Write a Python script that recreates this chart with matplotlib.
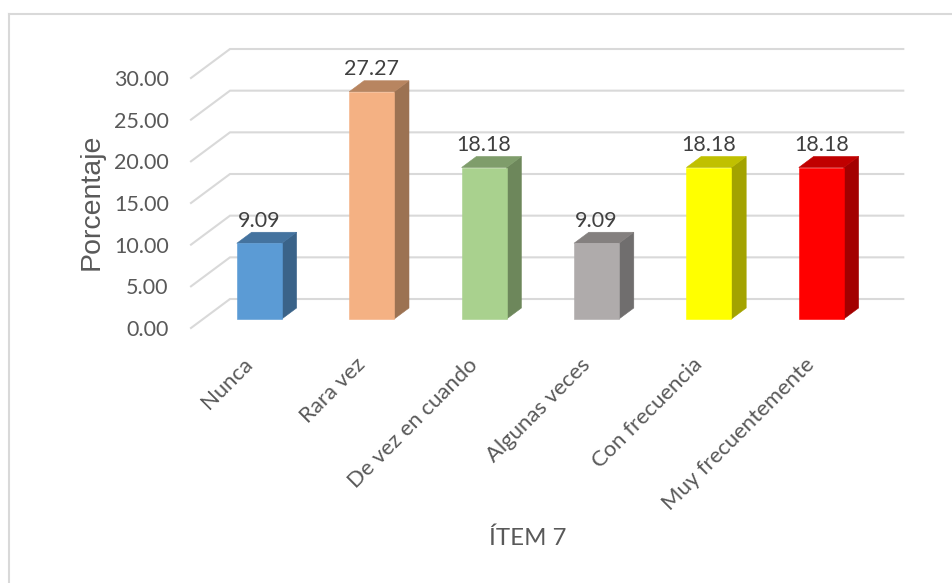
import matplotlib
matplotlib.use("Agg")
import matplotlib.pyplot as plt
from matplotlib.lines import Line2D
from matplotlib.patches import Polygon

categories = ["Nunca", "Rara vez", "De vez en cuando", "Algunas veces", "Con frecuencia", "Muy frecuentemente"]
values = [9.09, 27.27, 18.18, 9.09, 18.18, 18.18]
value_labels = ["9.09", "27.27", "18.18", "9.09", "18.18", "18.18"]
y_ticks = [0, 5, 10, 15, 20, 25, 30]
front_colors = ["#5B9BD5", "#F4B183", "#A9D18E", "#AFABAB", "#FFFF00", "#FF0000"]
top_colors = ["#44739F", "#B88560", "#7F9D6B", "#84807F", "#C0C000", "#C00000"]
side_colors = ["#3A6389", "#9C7252", "#6D875B", "#706E6E", "#A3A300", "#A30000"]

W, H = 953, 583
fig = plt.figure(figsize=(W / 100, H / 100), dpi=100)
plt.rcParams["font.family"] = "Lato"

# Front plane of the 3D box: x 191..865 px, y 78..328 px
ax = fig.add_axes([191 / W, 1 - 328 / H, 674.4 / W, 250 / H])
ax.set_xlim(-0.5, 5.5)
ax.set_ylim(0, 30)
for s in ax.spines.values():
    s.set_visible(False)
ax.patch.set_visible(False)

DX = 39 / (674.4 / 6)   # category units for full depth
DY = 29 / (250 / 30)    # value units for full depth


def proj(x, y, d):
    return x + d * DX, y + d * DY


grid_c = "#D9D9D9"
for v in y_ticks:
    pts = [proj(-0.5, v, 0), proj(-0.5, v, 1), proj(5.49, v, 1)]
    ax.plot(*zip(*pts), color=grid_c, lw=1.5, clip_on=False, zorder=1, solid_joinstyle="miter")

hw = 0.2
d0, d1 = 0.31, 0.69
for i, v in enumerate(values):
    xl, xr = i - hw, i + hw
    front = [proj(xl, 0, d0), proj(xr, 0, d0), proj(xr, v, d0), proj(xl, v, d0)]
    side = [proj(xr, 0, d0), proj(xr, 0, d1), proj(xr, v, d1), proj(xr, v, d0)]
    top = [proj(xl, v, d0), proj(xr, v, d0), proj(xr, v, d1), proj(xl, v, d1)]
    for poly, c in ((side, side_colors[i]), (top, top_colors[i]), (front, front_colors[i])):
        ax.add_patch(Polygon(poly, closed=True, fc=c, ec=c, lw=0.4, clip_on=False, zorder=3))
    lx, _ = proj(i, v, d0)
    _, ly = proj(i, v, d1)
    ax.text(lx, ly + 0.2, value_labels[i], ha="center", va="bottom",
            fontsize=15.5, color="#404040", zorder=5)

ax.set_yticks(y_ticks)
ax.set_yticklabels([f"{t:.2f}" for t in y_ticks], fontsize=15.5, color="#595959")
ax.tick_params(axis="y", length=0, pad=16)
ax.set_xticks([i - 0.04 for i in range(len(categories))])
ax.set_xticklabels(categories, rotation=45, ha="right", va="top", rotation_mode="anchor",
                   fontsize=15.9, color="#595959")
ax.tick_params(axis="x", length=0, pad=19)

fig.text(92 / W, 1 - 202 / H, "Porcentaje", rotation=90, ha="center", va="center",
         fontsize=20.5, color="#595959", family="Liberation Sans")
fig.text(528 / W, 1 - 538 / H, "ÍTEM 7", ha="center", va="center", fontsize=17.3, color="#595959")

border = "#D9D9D9"
fig.add_artist(Line2D([9 / W, 9 / W], [0, 1 - 14 / H], color=border, lw=1.5))
fig.add_artist(Line2D([9 / W, 1], [1 - 14 / H, 1 - 14 / H], color=border, lw=1.5))

fig.savefig("out.png", dpi=100)
